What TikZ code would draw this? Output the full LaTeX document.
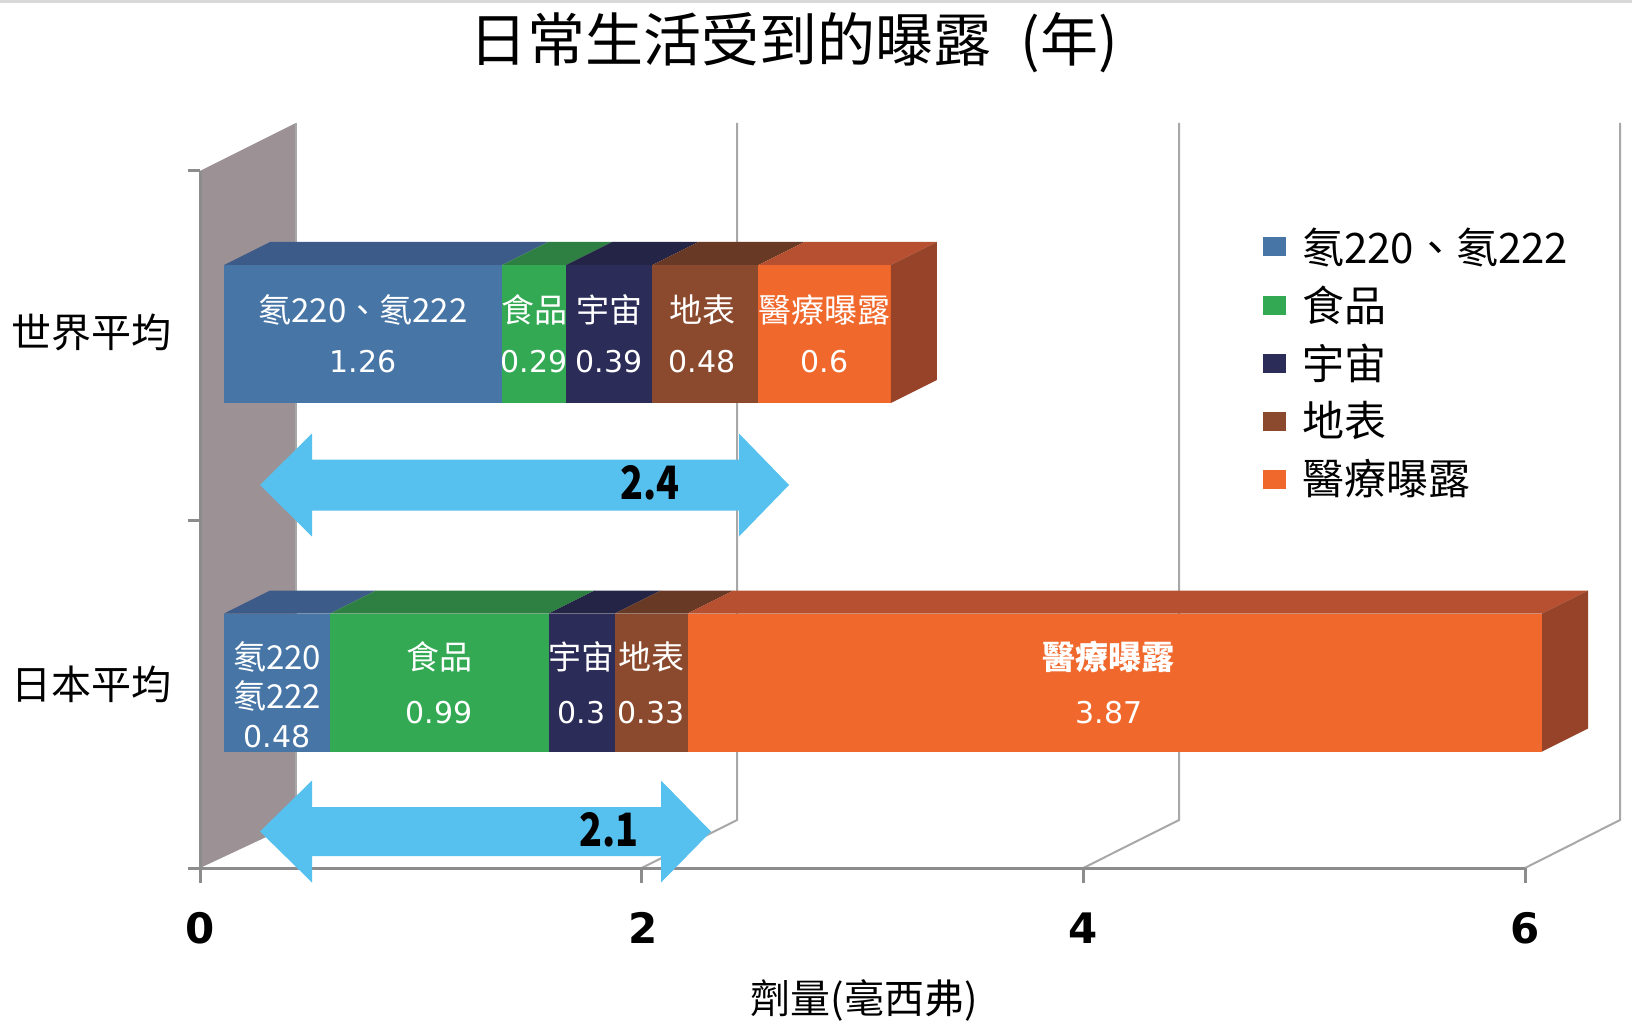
\documentclass[tikz,border=0pt]{standalone}
\usepackage{fontspec}
\setmainfont{Noto Sans CJK TC}
\newfontfamily\numfont{DejaVu Sans}
\usetikzlibrary{positioning,calc}
\newcommand\pxsize[1]{\fontsize{#1}{#1}\selectfont}
\definecolor{cBlue}{RGB}{70,117,166}
\definecolor{cBlueT}{RGB}{61,91,136}
\definecolor{cGreen}{RGB}{51,169,84}
\definecolor{cGreenT}{RGB}{46,128,66}
\definecolor{cNavy}{RGB}{43,45,88}
\definecolor{cNavyT}{RGB}{36,37,70}
\definecolor{cBrown}{RGB}{139,74,45}
\definecolor{cBrownT}{RGB}{104,57,37}
\definecolor{cOrange}{RGB}{240,104,44}
\definecolor{cOrangeT}{RGB}{183,80,48}
\definecolor{cOrangeS}{RGB}{150,67,42}
\definecolor{cWall}{RGB}{156,145,148}
\definecolor{cAxis}{RGB}{140,140,140}
\definecolor{cGrid}{RGB}{168,168,168}
\definecolor{cArrow}{RGB}{86,193,238}

\begin{document}
\begin{tikzpicture}[
  x=1pt,y=-1pt,
  seg/.style={rectangle,inner sep=0pt,outer sep=0pt,minimum height=138pt,anchor=west},
  lbl/.style={text=white,align=center,font=\fontsize{33}{50}\selectfont},
  lblj/.style={text=white,align=center,font=\fontsize{33}{54}\selectfont},
  key/.style={rectangle,inner sep=0pt,outer sep=0pt,minimum width=23pt,minimum height=19pt},
  ktext/.style={inner sep=0pt,anchor=west,font=\pxsize{42}},
  cat/.style={font=\pxsize{40}},
  tlab/.style={font=\numfont\bfseries\pxsize{42}},
  alab/.style={font=\bfseries\pxsize{46}},
  grid/.style={cGrid,line width=2pt},
  axis/.style={cAxis,line width=3pt}
]
\useasboundingbox (0,0) rectangle (1632,1032);
\fill[white] (0,0) rectangle (1632,1032);
\draw[gray!30,line width=3pt] (0,1.5) -- (1632,1.5);

\node[anchor=west,font=\pxsize{58}] (title) at (466,43) {日常生活受到的曝露\enspace(年)};

% back grid and side wall
\draw[grid] (641.7,868) -- (737,820) -- (737,123);
\draw[grid] (1083.3,868) -- (1179,820) -- (1179,123);
\draw[grid] (1525,868) -- (1620,820) -- (1620,123);
\fill[cWall] (200,171) -- (296,123) -- (296,823) -- (200,868) -- cycle;
\draw[cGrid,line width=1.5pt] (296,123) -- (296,823);

% axes
\draw[axis] (200,171) -- (200,868) -- (1525,868);
\draw[axis] (188,171) -- (200,171);
\draw[axis] (188,520) -- (200,520);
\draw[axis] (188,868) -- (200,868);
\draw[axis] (200,868) -- (200,883);
\draw[axis] (641.7,868) -- (641.7,883);
\draw[axis] (1083.3,868) -- (1083.3,883);
\draw[axis] (1525,868) -- (1525,883);

\node[tlab] (t0) at (200,928) {0};
\node[tlab] (t2) at (643,928) {2};
\node[tlab] (t4) at (1083,928) {4};
\node[tlab] (t6) at (1525,928) {6};
\node[font=\pxsize{40}] (xlab) at (864,1000) {劑量(毫西弗)};

\node[cat] (catW) at (91,332) {世界平均};
\node[cat] (catJ) at (91,684) {日本平均};

% world average bar
\node[seg,fill=cBlue,minimum width=278.2pt] (w1) at (224,334) {};
\node[seg,fill=cGreen,minimum width=64pt,right=0pt of w1] (w2) {};
\node[seg,fill=cNavy,minimum width=86.1pt,right=0pt of w2] (w3) {};
\node[seg,fill=cBrown,minimum width=106pt,right=0pt of w3] (w4) {};
\node[seg,fill=cOrange,minimum width=132.5pt,right=0pt of w4] (w5) {};
\fill[cBlueT] (w1.north west) -- ++(46,-23) -- ($(w1.north east)+(46,-23)$) -- (w1.north east) -- cycle;
\fill[cGreenT] (w2.north west) -- ++(46,-23) -- ($(w2.north east)+(46,-23)$) -- (w2.north east) -- cycle;
\fill[cNavyT] (w3.north west) -- ++(46,-23) -- ($(w3.north east)+(46,-23)$) -- (w3.north east) -- cycle;
\fill[cBrownT] (w4.north west) -- ++(46,-23) -- ($(w4.north east)+(46,-23)$) -- (w4.north east) -- cycle;
\fill[cOrangeT] (w5.north west) -- ++(46,-23) -- ($(w5.north east)+(46,-23)$) -- (w5.north east) -- cycle;
\fill[cOrangeS] (w5.north east) -- ++(46,-23) -- ($(w5.south east)+(46,-23)$) -- (w5.south east) -- cycle;
\node[lbl] at (w1) {氡220、氡222\\{\numfont\pxsize{30}1.26}};
\node[lbl] at (w2) {食品\\{\numfont\pxsize{30}0.29}};
\node[lbl] at (w3) {宇宙\\{\numfont\pxsize{30}0.39}};
\node[lbl,xshift=-3pt] at (w4) {地表\\{\numfont\pxsize{30}0.48}};
\node[lbl] at (w5) {醫療曝露\\{\numfont\pxsize{30}0.6}};

% japan average bar
\node[seg,fill=cBlue,minimum width=106pt] (j1) at (224,682.5) {};
\node[seg,fill=cGreen,minimum width=218.6pt,right=0pt of j1] (j2) {};
\node[seg,fill=cNavy,minimum width=66.2pt,right=0pt of j2] (j3) {};
\node[seg,fill=cBrown,minimum width=72.9pt,right=0pt of j3] (j4) {};
\node[seg,fill=cOrange,minimum width=854.5pt,right=0pt of j4] (j5) {};
\fill[cBlueT] (j1.north west) -- ++(46,-23) -- ($(j1.north east)+(46,-23)$) -- (j1.north east) -- cycle;
\fill[cGreenT] (j2.north west) -- ++(46,-23) -- ($(j2.north east)+(46,-23)$) -- (j2.north east) -- cycle;
\fill[cNavyT] (j3.north west) -- ++(46,-23) -- ($(j3.north east)+(46,-23)$) -- (j3.north east) -- cycle;
\fill[cBrownT] (j4.north west) -- ++(46,-23) -- ($(j4.north east)+(46,-23)$) -- (j4.north east) -- cycle;
\fill[cOrangeT] (j5.north west) -- ++(46,-23) -- ($(j5.north east)+(46,-23)$) -- (j5.north east) -- cycle;
\fill[cOrangeS] (j5.north east) -- ++(46,-23) -- ($(j5.south east)+(46,-23)$) -- (j5.south east) -- cycle;
\node[text=white,align=center,font=\fontsize{33}{39}\selectfont,yshift=-12pt] at (j1) {氡220\\氡222\\{\numfont\pxsize{30}0.48}};
\node[lblj] at (j2) {食品\\{\numfont\pxsize{30}0.99}};
\node[lblj] at (j3) {宇宙\\{\numfont\pxsize{30}0.3}};
\node[lblj] at (j4) {地表\\{\numfont\pxsize{30}0.33}};
\node[lblj,xshift=-6pt] at (j5) {\bfseries 醫療曝露\\{\numfont\pxsize{30}3.87}};

% totals
\fill[cArrow] (260,485) -- (312,433.5) -- (312,459.5) -- (739,459.5) -- (739,433.5) -- (789,485)
  -- (739,536.5) -- (739,510.5) -- (312,510.5) -- (312,536.5) -- cycle;
\node[alab] (v1) at (650,483) {\scalebox{0.82}[1]{2.4}};
\fill[cArrow] (260,831.5) -- (312,780.5) -- (312,807) -- (661,807) -- (661,780.5) -- (711,831.5)
  -- (661,882.5) -- (661,856) -- (312,856) -- (312,882.5) -- cycle;
\node[alab] (v2) at (609,830) {\scalebox{0.82}[1]{2.1}};

% legend
\node[key,fill=cBlue] (k1) at (1274.5,247) {};
\node[key,fill=cGreen,below=39pt of k1] (k2) {};
\node[key,fill=cNavy,below=39pt of k2] (k3) {};
\node[key,fill=cBrown,below=39pt of k3] (k4) {};
\node[key,fill=cOrange,below=39pt of k4] (k5) {};
\node[ktext,right=16pt of k1] {氡220、氡222};
\node[ktext,right=16pt of k2] {食品};
\node[ktext,right=16pt of k3] {宇宙};
\node[ktext,right=16pt of k4] {地表};
\node[ktext,right=16pt of k5] {醫療曝露};
\end{tikzpicture}
\end{document}
